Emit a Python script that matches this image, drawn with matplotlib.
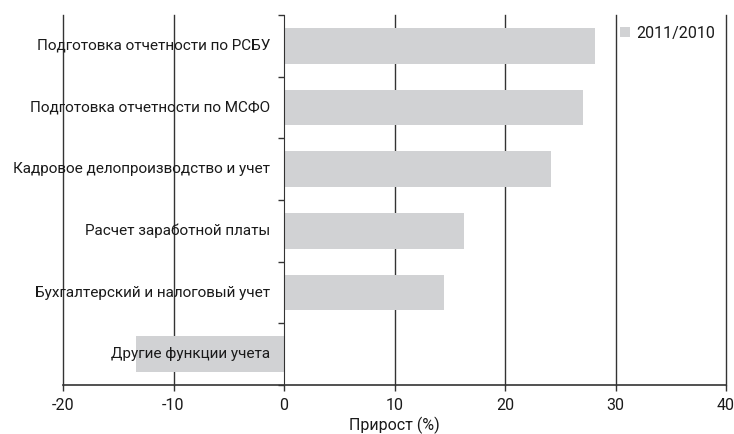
import matplotlib.pyplot as plt
import numpy as np

# Data
categories = [
    "Подготовка отчетности по РСБУ",
    "Подготовка отчетности по МСФО",
    "Кадровое делопроизводство и учет",
    "Расчет заработной платы",
    "Бухгалтерский и налоговый учет",
    "Другие функции учета",
]
growth = [28.1, 27.1, 24.2, 16.3, 14.5, -13.4]
series_name = "2011/2010"
x_ticks = [-20, -10, 0, 10, 20, 30, 40]

plt.rcParams['font.family'] = ['Roboto', 'DejaVu Sans']

fig = plt.figure(figsize=(7.34, 4.34), dpi=100)
ax = fig.add_axes([63 / 734, 49 / 434, 663 / 734, 370 / 434])

y = np.arange(len(categories))
ax.barh(y, growth, height=0.58, color="#d1d2d4", label=series_name, zorder=2)

ax.set_xlim(-20, 40)
ax.set_ylim(len(categories) - 0.5, -0.5)

# vertical grid lines (except at 0, where the axis sits)
for t in x_ticks:
    if t != 0:
        ax.axvline(t, color="#333333", linewidth=1.0, zorder=1, clip_on=False)

# y axis at zero with ticks between categories
for s in ["top", "right"]:
    ax.spines[s].set_visible(False)
ax.spines["left"].set_position(("data", 0))
ax.spines["left"].set_color("#333333")
ax.spines["left"].set_zorder(3)
ax.spines["bottom"].set_color("#333333")
ax.spines["bottom"].set_linewidth(1.2)
ax.set_yticks(np.arange(-0.5, len(categories), 1.0))
ax.set_yticklabels([])
ax.tick_params(axis="y", length=4, color="#333333", width=1)

ax.set_xticks(x_ticks)
ax.set_xticklabels([str(t) for t in x_ticks])
ax.tick_params(axis="x", length=4, color="#333333", width=1, labelsize=11.5,
               labelcolor="#1a1a1a", pad=5)

# category labels just left of the zero axis
for yi, name in zip(y, categories):
    ax.text(-1.25, yi, name, ha="right", va="center", fontsize=11,
            color="#1a1a1a", zorder=4)

ax.set_xlabel("Прирост (%)", fontsize=11.5, color="#1a1a1a", labelpad=3)

ax.legend(loc="upper right", bbox_to_anchor=(1.005, 1.01), frameon=False,
          fontsize=11.5, handlelength=0.6, handleheight=0.6, handletextpad=0.4,
          labelcolor="#1a1a1a")

fig.savefig("out.png", dpi=100)
